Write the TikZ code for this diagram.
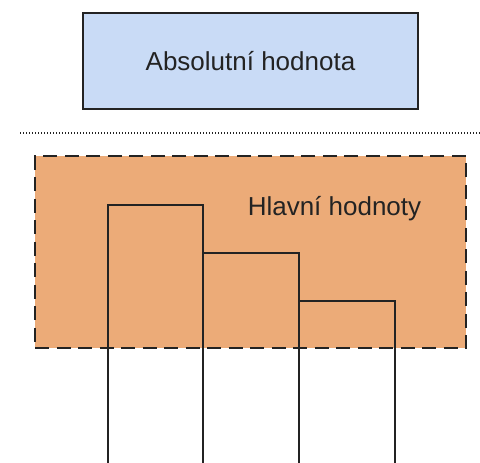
\documentclass[tikz,border=0pt]{standalone}
\usepackage{fontspec}
\setmainfont{Liberation Sans}
\definecolor{c1}{RGB}{201,219,246}
\definecolor{c2}{RGB}{236,171,120}
\definecolor{c3}{RGB}{35,35,35}

\begin{document}
\begin{tikzpicture}[x=1pt,y=-1pt,font=\fontsize{26}{30}\selectfont,
  every node/.style={inner sep=0pt,text=c3}]
\useasboundingbox (0,0) rectangle (480,463);

%%% Absolute value box
\node[draw=c3,fill=c1,line width=2pt,minimum width=335pt,minimum height=96pt] (abs) at (250.5,61) {Absolutní hodnota};

%%% Separator
\coordinate (sepl) at (20,133);
\coordinate (sepr) at (480,133);
\draw[c3,line width=1.2pt,dash pattern=on 1pt off 2pt] (sepl) -- (sepr);

%%% Main values region
\node[draw=c3,fill=c2,line width=2pt,dash pattern=on 14pt off 7.5pt,minimum width=431pt,minimum height=192pt] (main) at (250.5,252) {};
\node[anchor=base] (mainlabel) at (334.5,215) {Hlavní hodnoty};

%%% Bars
\draw[c3,line width=1.6pt] (108,463) -- (108,205) -- (203,205) -- (203,463);
\draw[c3,line width=1.6pt] (203,253) -- (299,253) -- (299,463);
\draw[c3,line width=1.6pt] (299,301) -- (395,301) -- (395,463);
\end{tikzpicture}
\end{document}
